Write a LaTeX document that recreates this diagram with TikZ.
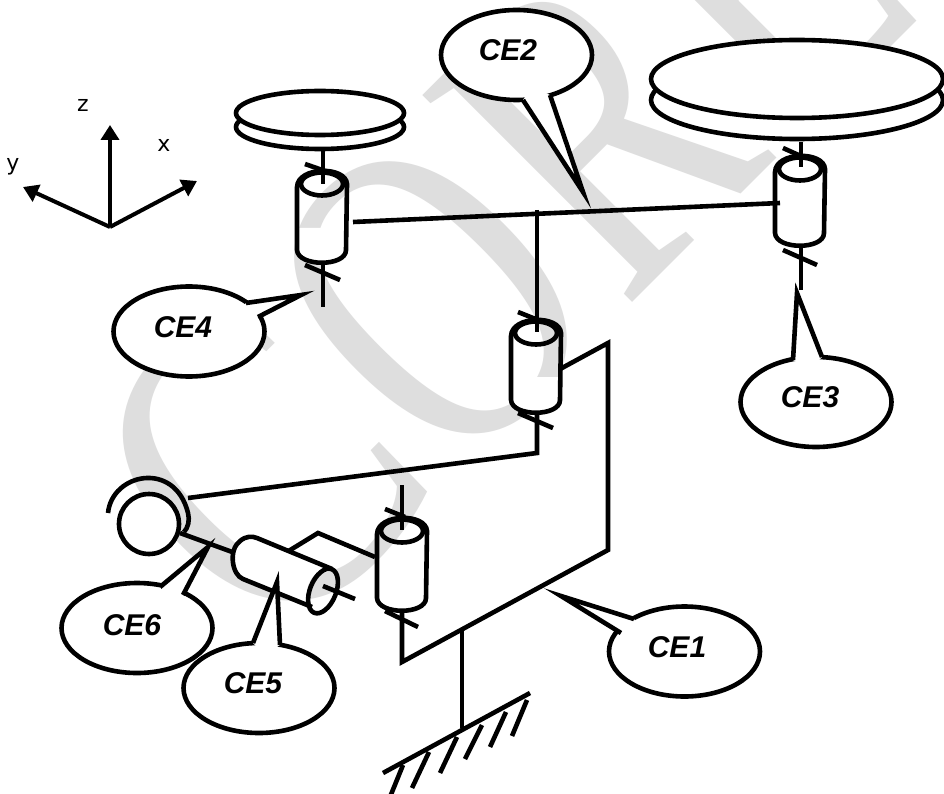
\documentclass[tikz,border=0pt]{standalone}
\usepackage{fontspec}
\setmainfont{Liberation Sans}
\newfontfamily\wmfont{Liberation Serif}
\newfontfamily\axfont{DejaVu Sans}
\usetikzlibrary{arrows.meta,shapes.geometric,calc}
\definecolor{wm}{HTML}{DEDEDE}
\tikzset{
  mech/.style={line width=4.6pt,draw=black,line cap=butt,line join=miter,miter limit=40},
  wmark/.style={text=wm,font=\wmfont\fontsize{450}{450}\selectfont,transform shape,rotate=45,xscale=#1,inner sep=0pt},
  wmark/.default=.72,
  axisarrow/.style={mech,line width=4pt,-{Triangle[length=15pt,width=18pt]}},
  axislabel/.style={font=\axfont\fontsize{22}{22}\selectfont,inner sep=0pt},
  bubble/.style={ellipse,draw=black,fill=white,line width=4.6pt,inner sep=0pt,minimum width=151pt,minimum height=90pt},
  bubbletext/.style={font=\bfseries\itshape\fontsize{30}{30}\selectfont,inner sep=0pt}
}
% callout: name, centre, tail a, tip, tail b, text position, text
\newcommand{\callout}[7]{%
  \node[bubble] (#1bg) at (#2) {};
  \coordinate (#1a) at (#3);
  \coordinate (#1t) at (#4);
  \coordinate (#1b) at (#5);
  \fill[white] (#1a) -- (#1t) -- (#1b) -- ($($(#1a)!.5!(#1b)$)!.25!(#1bg.center)$) -- cycle;
  \draw[mech] (#1a) -- (#1t) -- (#1b);
  \node[bubbletext] (#1) at (#6) {#7};
}
% vertical cylinder: centre x, top y, side height
\newcommand{\cylinder}[3]{%
  \begin{scope}[shift={(#1,#2)}]
    \fill[white] (-23,44) -- (-23,#3) .. controls (-23,#3+15) and (23,#3+15) .. (23,#3) -- (23,44) -- cycle;
    \draw[mech] (-25,3) -- (-25,#3) .. controls (-24,#3+17) and (24,#3+17) .. (24,#3)
      -- (25,0) .. controls (24,-18) and (-24,-18) .. (-25,3) -- cycle;
    \draw[mech] (0,0) ellipse [x radius=21,y radius=11.5];
  \end{scope}
}
\begin{document}
\begin{tikzpicture}[x=1pt,y=-1pt]
\clip (0,0) rectangle (944,794);
\useasboundingbox (0,0) rectangle (944,794);
\fill[white] (0,0) rectangle (944,794);
% watermark
\node[wmark=.83] (wmC) at (258,468) {C};
\node[wmark] (wmO) at (431,298) {O};
\node[wmark] (wmR) at (597,130) {R};
\node[wmark] (wmE) at (756,-27) {E};
% axes
\coordinate (o) at (110,227);
\coordinate (zt) at (110,125);
\coordinate (yt) at (23,187);
\coordinate (xt) at (197,181);
\draw[axisarrow] (o) -- (zt);
\draw[axisarrow] (o) -- (yt);
\draw[axisarrow] (o) -- (xt);
\node[axislabel] (zl) at (83,105) {z};
\node[axislabel] (xl) at (164,145) {x};
\node[axislabel] (yl) at (13,167) {y};
% small disc
\draw[mech,fill=white] (320,127) ellipse [x radius=84,y radius=22];
\draw[mech,fill=white] (320,113) ellipse [x radius=84,y radius=22];
% big disc
\draw[mech,fill=white] (797,100) ellipse [x radius=146,y radius=39];
\draw[mech,fill=white] (797,79) ellipse [x radius=146,y radius=39];
% links
\draw[mech] (353,222) -- (780,203);
\draw[mech] (537,210) -- (537,320);
\draw[mech] (537,412) -- (537,453) -- (188,498);
\draw[mech] (323,150) -- (323,170);
\draw[mech] (323,263) -- (323,307);
\draw[mech] (801,142) -- (801,155);
\draw[mech] (801,247) -- (801,290);
\draw[mech] (402,485) -- (402,517);
\draw[mech] (402,610) -- (402,662) -- (608,550) -- (608,343) -- (562,368);
\draw[mech] (462,628) -- (462,728);
% ground
\draw[mech] (383,773) -- (530,693);
\foreach \xa/\ya/\xb/\yb in {527/700/512/736,506/712/490/747,482/725/465/759,457/737/440/773,429/752/412/788,403/765/390/797}
  \draw[mech] (\xa,\ya) -- (\xb,\yb);
% cylinders
\cylinder{322}{184}{66}
\cylinder{800}{169}{64}
\cylinder{536}{333}{67}
\cylinder{402}{531}{67}
% shaft ends inside the top faces and collars
\draw[mech] (323,170) -- (323,184);
\draw[mech] (801,155) -- (801,167);
\draw[mech] (537,320) -- (537,332);
\draw[mech] (402,517) -- (402,530);
\draw[mech] (305,164) -- (328,172);
\draw[mech] (305,265) -- (340,280);
\draw[mech] (783,148) -- (803,157);
\draw[mech] (783,250) -- (817,265);
\draw[mech] (518,312) -- (538,320);
\draw[mech] (518,413) -- (553,428);
\draw[mech] (385,509) -- (405,517);
\draw[mech] (385,611) -- (418,627);
% horizontal joint link
\draw[mech] (375,557) -- (318,533) -- (287,552);
% wheel and its shaft
\draw[mech] (180,533) -- (235,553);
\draw[mech,fill=white] (149,524) circle [radius=30];
\draw[mech] (108,513) .. controls (112,473) and (175,460) .. (188,513) .. controls (190,520) and (188,528) .. (184,532);
% horizontal cylinder
\fill[white] (257,538) -- (332,568) .. controls (314,564) and (298,594) .. (312,607) -- (243,579)
  .. controls (232,575) and (228,550) .. (240,541) .. controls (246,536) and (252,536) .. (257,538) -- cycle;
\draw[mech] (332,569) -- (257,538) .. controls (252,536) and (246,536) .. (240,541)
  .. controls (228,550) and (232,575) .. (243,579) -- (312,607);
\draw[mech,shift={(323,591)},rotate=-22] (0,0) ellipse [x radius=13,y radius=23.5];
\draw[mech] (323,586) -- (355,599);
% callouts
\callout{ce1}{684.5,651.5}{634,619}{561,596}{621,633}{677,647}{CE1}
\callout{ce2}{516.5,55}{523,100}{583,192}{550,95}{508,50}{CE2}
\callout{ce3}{816,402}{793,360}{797,293}{822,357}{810,397}{CE3}
\callout{ce4}{189,331.5}{246,303}{301,295}{258,317}{183,327}{CE4}
\callout{ce6}{137,628}{160,587}{208,547}{183,595}{132,625}{CE6}
\callout{ce5}{259,688}{253,643}{277,582}{280,645}{253,683}{CE5}
\end{tikzpicture}
\end{document}
